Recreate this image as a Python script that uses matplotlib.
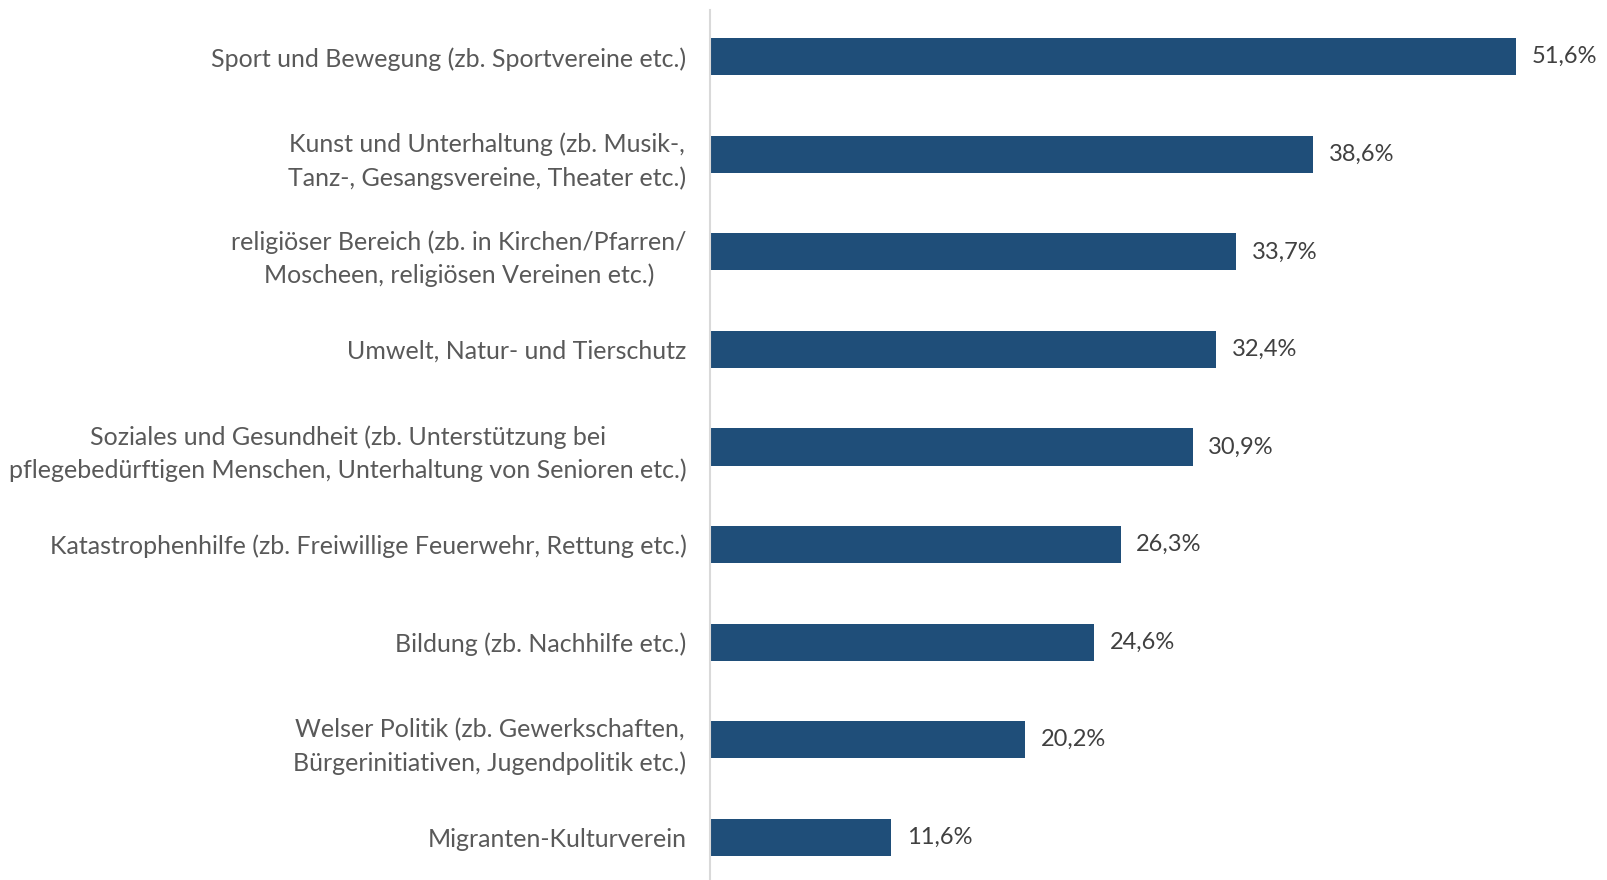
import matplotlib.pyplot as plt
import numpy as np

categories = [
    "Sport und Bewegung (zb. Sportvereine etc.)",
    "Kunst und Unterhaltung (zb. Musik-,\nTanz-, Gesangsvereine, Theater etc.)",
    "religiöser Bereich (zb. in Kirchen/Pfarren/\nMoscheen, religiösen Vereinen etc.)",
    "Umwelt, Natur- und Tierschutz",
    "Soziales und Gesundheit (zb. Unterstützung bei\npflegebedürftigen Menschen, Unterhaltung von Senioren etc.)",
    "Katastrophenhilfe (zb. Freiwillige Feuerwehr, Rettung etc.)",
    "Bildung (zb. Nachhilfe etc.)",
    "Welser Politik (zb. Gewerkschaften,\nBürgerinitiativen, Jugendpolitik etc.)",
    "Migranten-Kulturverein",
]
values = [51.6, 38.6, 33.7, 32.4, 30.9, 26.3, 24.6, 20.2, 11.6]

plt.rcParams['font.family'] = ['Lato', 'DejaVu Sans']
text_col = '#595959'

fig = plt.figure(figsize=(16.08, 8.8), dpi=100)
ax = fig.add_axes([710 / 1608, -6 / 880, 898 / 1608, 878 / 880])

y = np.arange(len(categories))
ax.barh(y, values, height=0.38, color='#1F4E79')
for yi, v in zip(y, values):
    ax.text(v + 1.0, yi, f"{v:.1f}%".replace('.', ','), va='center', ha='left',
            fontsize=17, color='#404040')

ax.set_ylim(len(categories) - 0.5, -0.5)
ax.set_xlim(0, 57.5)
ax.set_yticks(y, categories)
for lab in ax.get_yticklabels():
    lab.set_multialignment('center')
    lab.set_linespacing(1.5)
ax.tick_params(axis='y', length=0, pad=17, labelsize=18, labelcolor=text_col)
ax.set_xticks([])
for s in ['top', 'right', 'bottom']:
    ax.spines[s].set_visible(False)
ax.spines['left'].set_color('#D9D9D9')
ax.spines['left'].set_linewidth(1.5)
ax.spines['left'].set_bounds(len(categories) - 0.5 + 0.07, -0.5 + 0.02)

fig.savefig('out.png', dpi=100)
